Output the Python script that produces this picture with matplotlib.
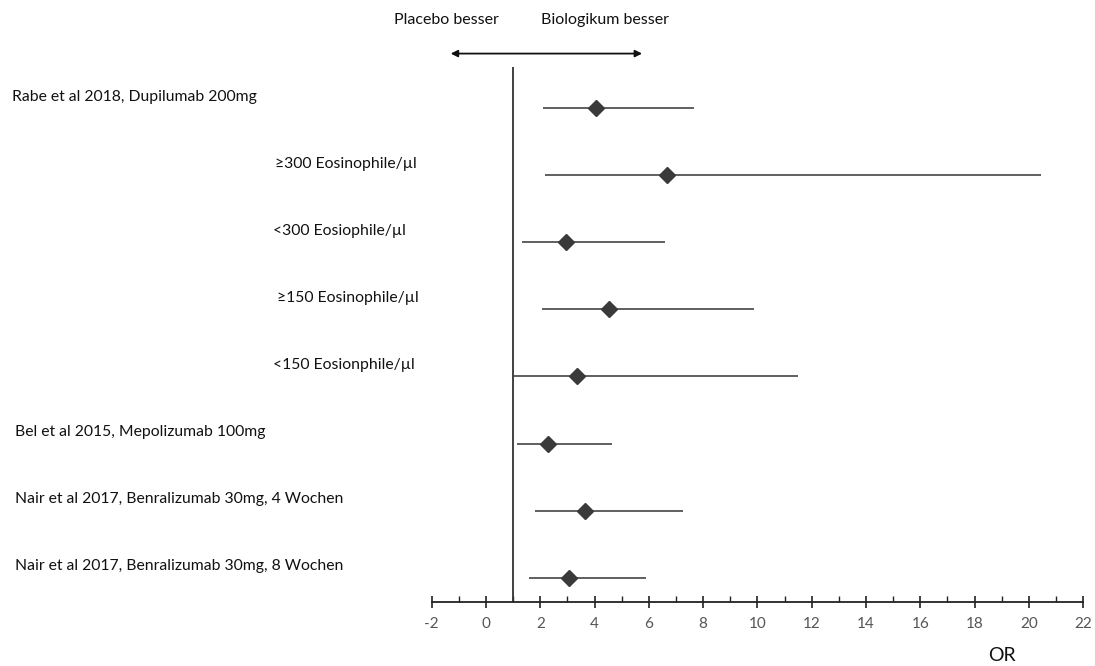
import matplotlib
matplotlib.use("Agg")
import matplotlib.pyplot as plt
import matplotlib.transforms as mtransforms

plt.rcParams['font.family'] = ['Lato', 'DejaVu Sans']
plt.rcParams['axes.unicode_minus'] = False

labels = ["Rabe et al 2018, Dupilumab 200mg",
          "\u2265300 Eosinophile/\u00b5l",
          "<300 Eosiophile/\u00b5l",
          "\u2265150 Eosinophile/\u00b5l",
          "<150 Eosionphile/\u00b5l",
          "Bel et al 2015, Mepolizumab 100mg",
          "Nair et al 2017, Benralizumab 30mg, 4 Wochen",
          "Nair et al 2017, Benralizumab 30mg, 8 Wochen"]
label_x = [12, 275, 273, 277, 273, 15, 15, 15]  # pixel offsets of row labels
odds = [4.04, 6.65, 2.94, 4.52, 3.37, 2.27, 3.63, 3.04]
ci_low = [2.09, 2.16, 1.32, 2.06, 1.0, 1.13, 1.79, 1.59]
ci_high = [7.68, 20.45, 6.61, 9.89, 11.5, 4.66, 7.26, 5.9]

fig = plt.figure(figsize=(10.95, 6.66), dpi=100)
ax = fig.add_axes([431.7/1095, 64/666, 651.5/1095, 535/666])

n = len(labels)
ys = [n - i for i in range(n)]

ax.axvline(1, color="#333333", lw=1.3)
for y, o, lo, hi in zip(ys, odds, ci_low, ci_high):
    ax.plot([lo, hi], [y, y], color="#444444", lw=1.2, solid_capstyle="butt")
    ax.plot(o, y, marker="D", color="#3a3a3a", markersize=8, mec="#3a3a3a")

trans = mtransforms.blended_transform_factory(fig.transFigure, ax.transData)
for y, lab, px in zip(ys, labels, label_x):
    ax.text(px/1095, y + 0.17, lab, transform=trans, ha="left", va="center",
            fontsize=11.3, color="#111111")

ax.set_xlim(-2, 22)
ax.set_ylim(0.64, 8.61)
ax.set_xticks(range(-2, 23, 2))
ax.set_xticks(range(-1, 22, 2), minor=True)
ax.tick_params(axis="x", which="major", direction="inout", length=9, width=1.2,
               colors="#222222", labelcolor="#555555", labelsize=11, pad=6)
ax.tick_params(axis="x", which="minor", direction="in", length=4, width=1, colors="#222222")
ax.set_yticks([])
for s in ["top", "left", "right"]:
    ax.spines[s].set_visible(False)
ax.spines["bottom"].set_linewidth(1.3)
ax.spines["bottom"].set_color("#222222")

ax.annotate("", xy=(-1.3, 8.81), xytext=(5.75, 8.81),
            arrowprops=dict(arrowstyle="<|-|>", color="#111111", lw=1.3,
                            mutation_scale=10, shrinkA=0, shrinkB=0),
            annotation_clip=False)
ax.text(-1.44, 9.31, "Placebo besser", ha="center", va="center", fontsize=11.5,
        color="#111111", clip_on=False)
ax.text(4.38, 9.31, "Biologikum besser", ha="center", va="center", fontsize=11.5,
        color="#111111", clip_on=False)
ax.text(19.0, -0.15, "OR", ha="center", va="center", fontsize=14, color="#111111",
        clip_on=False)

fig.savefig("out.png", dpi=100)
